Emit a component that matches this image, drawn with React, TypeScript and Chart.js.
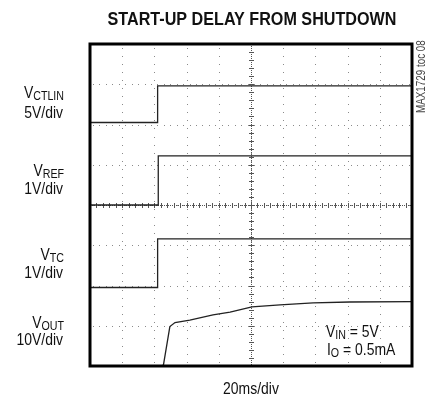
import React, { useEffect, useRef } from "react";
import { Chart, registerables } from "chart.js";

Chart.register(...registerables);

// Traces in scope divisions (x: 0..10 divisions of 20ms, y: 0..8 divisions)
const vctlinX = [0, 2.1, 2.1, 10];
const vctlinY = [6.05, 6.05, 6.96, 6.96];
const vrefX = [0, 2.12, 2.12, 10];
const vrefY = [4.0, 4.0, 5.22, 5.22];
const vtcX = [0, 2.1, 2.1, 10];
const vtcY = [1.95, 1.95, 3.16, 3.16];
const voutX = [0, 2.2, 2.28, 2.48, 2.64, 3.1, 3.82, 4.35, 5.03, 5.9, 6.93, 8.07, 10];
const voutY = [0, 0, 0.02, 0.98, 1.08, 1.14, 1.27, 1.34, 1.47, 1.52, 1.57, 1.59, 1.6];

const xDivs = 10;
const yDivs = 8;

const FONT = '"Liberation Sans", Arial, sans-serif';
const NARROW = 0.82;

const toPts = (xs: number[], ys: number[]) => xs.map((x, i) => ({ x, y: ys[i] }));

function narrowText(
  ctx: CanvasRenderingContext2D,
  text: string,
  x: number,
  y: number,
  font: string,
  align: "left" | "right" | "center",
  k = NARROW
) {
  ctx.save();
  ctx.font = font;
  const w = ctx.measureText(text).width * k;
  const start = align === "left" ? x : align === "right" ? x - w : x - w / 2;
  ctx.translate(start, y);
  ctx.scale(k, 1);
  ctx.textAlign = "left";
  ctx.fillText(text, 0, 0);
  ctx.restore();
  return start + w;
}

function measureNarrow(ctx: CanvasRenderingContext2D, text: string, font: string, k = NARROW) {
  ctx.save();
  ctx.font = font;
  const w = ctx.measureText(text).width * k;
  ctx.restore();
  return w;
}

function drawSub(
  ctx: CanvasRenderingContext2D,
  main: string,
  sub: string,
  x: number,
  y: number,
  align: "left" | "right",
  mainSize = 17,
  subSize = 13
) {
  const fm = `${mainSize}px ${FONT}`;
  const fs = `${subSize}px ${FONT}`;
  const wm = measureNarrow(ctx, main, fm);
  const ws = measureNarrow(ctx, sub, fs);
  const start = align === "right" ? x - wm - ws : x;
  narrowText(ctx, main, start, y, fm, "left");
  narrowText(ctx, sub, start + wm, y + 2, fs, "left");
  return start + wm + ws;
}

const scopePlugin = {
  id: "scope",
  beforeDatasetsDraw(chart: any) {
    const { ctx, chartArea: a, scales } = chart;
    const xs = scales.x;
    const ys = scales.y;
    ctx.save();
    ctx.fillStyle = "#8a8a8a";
    for (let i = 1; i < xDivs; i++) {
      const px = Math.round(xs.getPixelForValue(i));
      for (let py = a.top + 4; py < a.bottom; py += 8.05) {
        ctx.fillRect(px, Math.round(py), 1, 1);
      }
    }
    for (let j = 1; j < yDivs; j++) {
      const py = Math.round(ys.getPixelForValue(j));
      for (let px = a.left + 3; px < a.right; px += 6.44) {
        ctx.fillRect(Math.round(px), py, 1, 1);
      }
    }
    const cx = Math.round(xs.getPixelForValue(xDivs / 2));
    const cy = Math.round(ys.getPixelForValue(yDivs / 2));
    ctx.fillStyle = "#555";
    for (let py = a.top; py < a.bottom; py += 2) ctx.fillRect(cx, Math.round(py), 1, 1);
    for (let px = a.left; px < a.right; px += 2) ctx.fillRect(Math.round(px), cy, 1, 1);
    for (let k = 1; k < xDivs * 5; k++) {
      const px = Math.round(xs.getPixelForValue(k / 5));
      ctx.fillRect(px, cy - 2, 1, 5);
    }
    for (let k = 1; k < yDivs * 5; k++) {
      const py = Math.round(ys.getPixelForValue(k / 5));
      ctx.fillRect(cx - 2, py, 5, 1);
    }
    ctx.restore();
  },
  afterDatasetsDraw(chart: any) {
    const { ctx, chartArea: a } = chart;
    ctx.save();
    ctx.strokeStyle = "#000";
    ctx.lineWidth = 3;
    ctx.strokeRect(a.left, a.top, a.right - a.left, a.bottom - a.top);

    ctx.fillStyle = "#111";
    ctx.textBaseline = "alphabetic";
    narrowText(ctx, "START-UP DELAY FROM SHUTDOWN", 252, 25, `bold 19px ${FONT}`, "center", 0.85);
    narrowText(ctx, "20ms/div", 251, 394, `17px ${FONT}`, "center");

    const rx = 64;
    drawSub(ctx, "V", "CTLIN", rx, 98, "right");
    drawSub(ctx, "V", "REF", rx, 176, "right");
    drawSub(ctx, "V", "TC", rx, 260, "right");
    drawSub(ctx, "V", "OUT", rx, 328, "right");
    const f17 = `17px ${FONT}`;
    narrowText(ctx, "5V/div", rx - 1, 118, f17, "right");
    narrowText(ctx, "1V/div", rx - 1, 194, f17, "right");
    narrowText(ctx, "1V/div", rx - 1, 278, f17, "right");
    narrowText(ctx, "10V/div", rx - 1, 345, f17, "right");

    const e1 = drawSub(ctx, "V", "IN", 326, 337, "left");
    narrowText(ctx, " = 5V", e1, 337, f17, "left");
    const e2 = drawSub(ctx, "I", "O", 327, 355, "left");
    narrowText(ctx, " = 0.5mA", e2, 355, f17, "left");

    ctx.save();
    ctx.translate(425, 113);
    ctx.rotate(-Math.PI / 2);
    ctx.fillStyle = "#444";
    narrowText(ctx, "MAX1729 toc 08", 0, 0, `12px ${FONT}`, "left");
    ctx.restore();
    ctx.restore();
  },
};

export default function App() {
  const ref = useRef<HTMLCanvasElement | null>(null);
  useEffect(() => {
    document.body.style.margin = "0";
    const canvas = ref.current;
    if (!canvas) return;
    const ds = (data: any[]) => ({
      data,
      borderColor: "#222",
      borderWidth: 1.3,
      pointRadius: 0,
      tension: 0,
      fill: false,
    });
    const chart = new Chart(canvas, {
      type: "line",
      data: {
        datasets: [
          { label: "VCTLIN", ...ds(toPts(vctlinX, vctlinY)) },
          { label: "VREF", ...ds(toPts(vrefX, vrefY)) },
          { label: "VTC", ...ds(toPts(vtcX, vtcY)) },
          { label: "VOUT", ...ds(toPts(voutX, voutY)) },
        ],
      },
      options: {
        animation: false,
        responsive: false,
        maintainAspectRatio: false,
        devicePixelRatio: 1,
        layout: { padding: { left: 90, right: 15, top: 44, bottom: 34 } },
        plugins: { legend: { display: false }, tooltip: { enabled: false }, title: { display: false } },
        scales: {
          x: { type: "linear", min: 0, max: xDivs, display: false },
          y: { type: "linear", min: 0, max: yDivs, display: false },
        },
      },
      plugins: [scopePlugin],
    });
    return () => chart.destroy();
  }, []);
  return (
    <div style={{ width: 427, height: 400, background: "#fff" }}>
      <canvas ref={ref} width={427} height={400} style={{ display: "block", width: 427, height: 400 }} />
    </div>
  );
}
